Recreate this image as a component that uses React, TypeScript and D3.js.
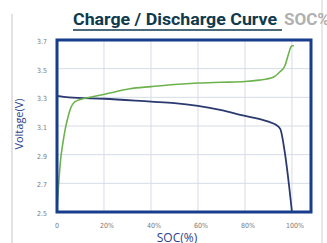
import { useRef, useEffect } from "react";
import * as d3 from "d3";

// SOC (%) vs voltage (V)
const chargeSoc = [0, 0.5, 1, 1.5, 2.5, 3.4, 4.5, 5.5, 7.7, 11, 14, 22.5, 31, 40, 50, 60, 70, 80, 86, 92, 95, 97, 98.5, 99.5, 100, 100.8];
const chargeV = [2.52, 2.65, 2.76, 2.86, 2.98, 3.07, 3.15, 3.21, 3.27, 3.29, 3.3, 3.33, 3.36, 3.375, 3.39, 3.4, 3.405, 3.41, 3.42, 3.44, 3.48, 3.52, 3.6, 3.65, 3.66, 3.66];

const dischargeSoc = [0, 5, 20, 40, 50, 60, 70, 80, 86, 90, 93, 95, 97, 99, 100];
const dischargeV = [3.31, 3.3, 3.29, 3.27, 3.26, 3.24, 3.21, 3.17, 3.15, 3.13, 3.11, 3.08, 2.91, 2.65, 2.5];

const voltTicks = [2.5, 2.7, 2.9, 3.1, 3.3, 3.5, 3.7];
const socTicks = [0, 20, 40, 60, 80, 100];
const socLabels = ["0", "20%", "40%", "60%", "80%", "100%"];

const W = 327;
const H = 243;

export default function App() {
  const svgRef = useRef<SVGSVGElement>(null);

  useEffect(() => {
    const svg = d3.select(svgRef.current);
    svg.selectAll("*").remove();

    const x = d3.scaleLinear().domain([0, 108.1]).range([57, 311]);
    const y = d3.scaleLinear().domain([2.5, 3.7]).range([212, 40]);

    // page border lines
    svg.append("line").attr("x1", 12).attr("x2", 12).attr("y1", 14).attr("y2", H)
      .attr("stroke", "#d9d9d9").attr("stroke-width", 1.5);
    svg.append("line").attr("x1", 322).attr("x2", 322).attr("y1", 0).attr("y2", H)
      .attr("stroke", "#e0e0e0").attr("stroke-width", 1.5);

    // title
    svg.append("text")
      .attr("x", 73).attr("y", 25)
      .attr("textLength", 204).attr("lengthAdjust", "spacingAndGlyphs")
      .attr("font-family", "Roboto").attr("font-weight", 700).attr("font-size", 17)
      .attr("fill", "#0f3a4e")
      .text("Charge / Discharge Curve");
    svg.append("text")
      .attr("x", 284).attr("y", 25)
      .attr("font-family", "Roboto").attr("font-weight", 700).attr("font-size", 17)
      .attr("fill", "#b0b0b0")
      .text("SOC%");
    svg.append("line").attr("x1", 73).attr("x2", 282).attr("y1", 30).attr("y2", 30)
      .attr("stroke", "#0f3a4e").attr("stroke-width", 1.4);

    // grid
    svg.append("g").selectAll("line").data(voltTicks.slice(1, -1)).join("line")
      .attr("x1", 57).attr("x2", 311)
      .attr("y1", (d) => y(d)).attr("y2", (d) => y(d))
      .attr("stroke", "#d5dce6").attr("stroke-width", 1);
    svg.append("g").selectAll("line").data(socTicks.slice(1)).join("line")
      .attr("x1", (d) => x(d)).attr("x2", (d) => x(d))
      .attr("y1", 40).attr("y2", 212)
      .attr("stroke", "#d5dce6").attr("stroke-width", 1);

    // y tick labels
    svg.append("g").selectAll("text").data(voltTicks).join("text")
      .attr("x", 47).attr("y", (d) => y(d) + 4)
      .attr("text-anchor", "end")
      .attr("font-family", "DejaVu Sans Condensed").attr("font-size", 7)
      .attr("fill", "#7a7a7a")
      .text((d) => d.toFixed(1));

    // x tick labels
    svg.append("g").selectAll("text").data(socTicks).join("text")
      .attr("x", (d) => x(d) + (d === 0 ? 0 : 3)).attr("y", 228)
      .attr("text-anchor", "middle")
      .attr("font-family", "DejaVu Sans Condensed").attr("font-size", 7)
      .attr("fill", "#7a7a7a")
      .text((d, i) => socLabels[i]);

    // axis titles
    svg.append("text")
      .attr("transform", "translate(23,124) rotate(-90)")
      .attr("text-anchor", "middle")
      .attr("font-family", "Open Sans").attr("font-size", 11)
      .attr("fill", "#2c3f8c")
      .text("Voltage(V)");
    svg.append("text")
      .attr("x", 177).attr("y", 242)
      .attr("text-anchor", "middle")
      .attr("font-family", "Open Sans").attr("font-size", 12)
      .attr("fill", "#2c3f8c")
      .text("SOC(%)");

    const line = d3.line<number>().curve(d3.curveMonotoneX);

    svg.append("path")
      .attr("d", line.x((d) => x(dischargeSoc[d])).y((d) => y(dischargeV[d]))(d3.range(dischargeSoc.length)))
      .attr("fill", "none").attr("stroke", "#2b3a6e").attr("stroke-width", 1.8);

    svg.append("path")
      .attr("d", line.x((d) => x(chargeSoc[d])).y((d) => y(chargeV[d]))(d3.range(chargeSoc.length)))
      .attr("fill", "none").attr("stroke", "#6db34d").attr("stroke-width", 1.6);

    // frame
    svg.append("rect")
      .attr("x", 57).attr("y", 40).attr("width", 254).attr("height", 172)
      .attr("fill", "none").attr("stroke", "#173d8c").attr("stroke-width", 3);
  }, []);

  return (
    <svg
      ref={svgRef}
      width={W}
      height={H}
      style={{ position: "absolute", left: 0, top: 0, background: "#fff" }}
    />
  );
}
